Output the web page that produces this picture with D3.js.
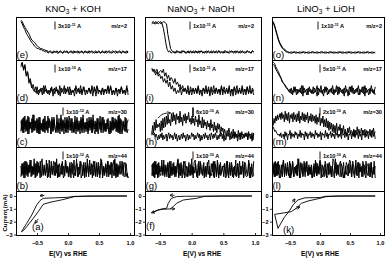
<!DOCTYPE html>
<html>
<head>
<meta charset="utf-8">
<script src="https://cdn.jsdelivr.net/npm/d3@7"></script>
<style>
  body { margin: 0; background: #fff; }
  svg { display: block; font-family: "Liberation Sans", Arial, sans-serif; }
</style>
</head>
<body>
<svg id="chart" width="387" height="259"></svg>
<script>
// one column per electrolyte
const saltNames = [["KNO", "3", " + KOH"], ["NaNO", "3", " + NaOH"], ["LiNO", "3", " + LiOH"]];
const massLabels = ["m/z=2", "m/z=17", "m/z=30", "m/z=44"];
const panelTags = [["e", "d", "c", "b", "a"], ["j", "i", "h", "g", "f"], ["o", "n", "m", "l", "k"]];
const barMantissa = [["3", "1", "1", "1"], ["1", "5", "6", "1"], ["1", "5", "2", "1"]];
const barExponent = [["-11", "-10", "-12", "-12"], ["-11", "-11", "-10", "-10"], ["-11", "-11", "-10", "-10"]];
const xTicks = [-0.5, 0, 0.5, 1.0];
const yTicks = [0, -1, -2, -3];
// potential window swept by the MS traces (V vs RHE)
const scanRange = [[-0.76, 0.97], [-0.63, 0.98], [-0.78, 0.92]];

// MS ion currents: one character per sample, base 36 (0 = panel floor, 35 = panel top)
const kohM2 = [
  "wurpmkigedba99887767566576656765667566576656675665766567566576656765667566576656",
  "xwtrpnligfecba9988776765667566576656765667566576656765667566576656765667566576"];
const kohM17 = [
  "wyrvnpjhcfa8d6b9c7e8a6c9b7d8a5c9e7b8d6a9c7b8e6d9a7c8b5d9e7a8c6b9d7e8a6c9b7d8a6c9",
  "uxswmqgkeb9d7a8c6e9b7a8d5c9b6e8a7c9d6b8a5e9c7b8d6a9c7e8b5d9a6c8b7e9d6a8c5b9d7a8e6"];
const kohM30 = [
  "cmboeldpakfncqdlbmaoejcnbkdpflamcoebkdnaqcmfjboeldnbkcpamdlfobnejckaodmbqelcnafkdobmcjenalbodkfmcpbnealdocjm",
  "ldnbpcmaoekbqdlfnboajdmcpelbnkaodmfcqbjendlaocmbpkdnfbleocjamdqbkenclfobmdakcnepblodjcmfbakdoenclbqamdkfcnbe"];
const kohM44 = [
  "bmdnaoclepbkdqamcnfobldjcpaekbmdoncqalbfmdkcoejbnaldpckmbfoadlcnbqekdmaojclbnfdpakcmeobldnjcqambkfdoclnbea",
  "kcmaodnblfpcjdmboekanqcldfmbpaodkcnelbmjdoacpfkbldnmaecqbjdolcnakfmbpdelcobndkaqmcjelbofdnakpcmbldoejnbcmda"];

const naohM2 = [
  "uvuwvuvwuqkd86756657665767566576657665766576657665767566576656766576657665766576",
  "vwvuvwvuvwvulf976657665766576657665767566576657665766576657665766576656766576"];
const naohM17 = [
  "tqsnqmokmhkgjdhbe9c7a8d6b9c7e8a6c9b7d8a5c9e7b8d6a9c7b8e6d9a7c8b5d9e7a8c6b9d7e8a6",
  "rspqsoqrpsmpkniljgkfhdfbe9c8a6d9b7c8e6a9c7b8d5a9e7c8b6d9a7c8e5b9d6a8c7e9b6d8a7c9"];
const naohM30 = [
  "9hbkdmfigjcldnfogpiqjmhrkslqirmpjtkohqlrjpmsknipjnhpkmgqilfofmhkelgjdmfickdhbjeiagcf9eb8dafb9c7e8c9a7d8b6c9a7b8a6c9a7b5a",
  "ca9b7a8596a7b5968a49b6a7958b6a47958a6b7948a5967b8a5968b7a4958a6b7958a5b96a7b8596a8b6a4957a8b5968a6b7948a5b9697a8b5a96847b"];
const naohM44 = [
  "cmbodlaneckdpblfmaocjdnbkepamcldoafkbnmcqdjelbaodmfcnbkdlpaecmbojdnalcfkbmdoeanclbjdpcmafkdobnlecmajdbo",
  "lcnaodmbkfpcldjbneaocmdkblqfcnadmoebjcldkanpfbmcoedlajbndkcmfoalbpcdnekjmabocldnfakcbmeodjlancbdpkamfc"];

const liohM2 = [
  "wtplheca98766565665656566565656656565665656566565656656565665656566565656656565",
  "vsokgdb987665656656565665656566565656656565665656566565656656565665656566565656"];
const liohM17 = [
  "yxusqnligfdc9b7a8d6b9c7e8a6c9b7d8a5c9e7b8d6a9c7b8e6d9a7c8b5d9e7a8c6b9d7e8a6c9b7d",
  "wvsqomkhgecba8c6d9b7a8e5c9b6d8a7c9e6b8a5d9c7b8e6a9d7c8b5e9a6d8c7b9e6a8d5c9b7e8a6"];
const liohM30 = [
  "hnjplqmormsnqktmrlsjqnrksmqkrltjpmslrkqmsjplrkqlpjqiokrhnjpgmgnfldkejcibhcjbgdiafchaeb9fbgadc9e8dagbeacf9dbe9dacbe8dbfac",
  "gecdba9a8b79a6c8b5a9d6b8a7c9b6a8d7b9a5c8b6a9c7b8a6d9b7a8c5b9a7d8b6a9c7b8a6c9b7a8b6d9a7c8b5a9c6b8d7a9b6c8a5d9b7a8c6b9a7d8b6"];
const liohM44 = [
  "dnbmcoaelbpdkcnfamdobjelcqankbdmfocldjabmenckdpalfbocmdnjbkeaqcldmobfnakdcmelbojdpcnamfkbldoecmbnajdk",
  "mbocndlaekpbmdjcoafnbdkcqlaemdobnfcjdlakbpcmeondbjlfacmdkbqoendlcbmjafdnkcpobleamdcnfjbokdalmcbnedoa"];

// cyclic voltammograms [E (V), I (mA)]
const cvKohA = [[0.95, 0], [0.5, 0], [0.1, -0.03], [0.0, -0.1], [-0.2, -0.14], [-0.4, -0.18], [-0.45, -0.35],
  [-0.505, -0.7], [-0.585, -1.48], [-0.666, -2.13], [-0.75, -2.78]];
const cvKohB = [[-0.75, -2.78], [-0.72, -2.7], [-0.666, -2.39], [-0.56, -1.74], [-0.48, -1.22], [-0.4, -0.65],
  [-0.29, -0.49], [-0.1, -0.3], [0.0, -0.18], [0.1, -0.05], [0.3, -0.01], [0.95, 0]];
const cvNaohA = [[0.95, 0], [0.5, 0], [0.2, -0.03], [0.08, -0.18], [-0.13, -0.31], [-0.24, -0.57], [-0.29, -0.83],
  [-0.34, -1.01], [-0.45, -1.03], [-0.52, -1.08], [-0.61, -1.27]];
const cvNaohB = [[-0.61, -1.27], [-0.55, -1.12], [-0.48, -1.02], [-0.394, -0.95], [-0.37, -0.57], [-0.32, -0.18],
  [-0.24, -0.05], [-0.1, -0.02], [0.95, 0]];
const cvLiohA = [[0.92, 0], [0.5, 0], [0.1, -0.02], [0.0, -0.12], [-0.25, -0.14], [-0.37, -0.31], [-0.45, -0.7],
  [-0.5, -1.09], [-0.6, -1.7], [-0.7, -2.52]];
const cvLiohB = [[-0.7, -2.52], [-0.73, -1.95], [-0.755, -1.43], [-0.62, -1.33], [-0.48, -1.22], [-0.395, -0.96],
  [-0.31, -0.57], [-0.2, -0.39], [0.0, -0.18], [0.1, -0.05], [0.3, 0], [0.92, 0]];

// scan direction arrows [E0, I0, E1, I1]
const cvArrowsKoh = [[-0.38, 0.04, -0.45, 0.03], [-0.48, -1.78, -0.53, -2.1]];
const cvArrowsNaoh = [[-0.27, 0.06, -0.34, 0.06], [-0.34, -1.0, -0.27, -1.0], [-0.57, -1.2, -0.63, -1.3]];
const cvArrowsLioh = [[-0.46, -0.5, -0.42, -0.25], [-0.41, -0.98, -0.34, -0.86]];
// curved arrows in the m/z=30 panels [E, signal]
const humpArrowNaoh = [[-0.53, 23.3], [-0.45, 26.7], [-0.34, 27.5]];
const humpArrowLioh = [[-0.74, 22.2], [-0.69, 24.8], [-0.63, 26.4]];
// tag position of the CV panels [E, I]
const cvTagPos = [[-0.58, -2.65], [-0.72, -2.57], [-0.617, -2.88]];

const msTraces = [[kohM2, kohM17, kohM30, kohM44], [naohM2, naohM17, naohM30, naohM44], [liohM2, liohM17, liohM30, liohM44]];
const cvTraces = [[cvKohA, cvKohB], [cvNaohA, cvNaohB], [cvLiohA, cvLiohB]];
const cvArrows = [cvArrowsKoh, cvArrowsNaoh, cvArrowsLioh];
const humpArrows = [null, humpArrowNaoh, humpArrowLioh];

// layout
const colBox = [[16, 134], [145, 261], [272, 384]];
const tickPx = [[37, 130], [160, 255], [290, 380]];   // where -0.5 V and 1.0 V sit
const rowY = [17, 60, 103, 147, 191, 235];
const barX = [[55, 55, 63, 63], [190, 190, 193, 193], [318, 320, 320, 320]];
const massX = [127, 254, 382];
const xLabelX = [68, 202, 320];

const svg = d3.select("#chart");

svg.append("defs").append("marker")
  .attr("id", "head")
  .attr("viewBox", "0 0 6 6")
  .attr("refX", 5).attr("refY", 3)
  .attr("markerWidth", 3.5).attr("markerHeight", 3.5)
  .attr("markerUnits", "userSpaceOnUse")
  .attr("orient", "auto")
  .append("path")
  .attr("d", "M0,0.4 L6,3 L0,5.6")
  .attr("fill", "none").attr("stroke", "#000").attr("stroke-width", 1.3);

const cvY = d3.scaleLinear().domain([-3, 0]).range([234.5, 196]);

colBox.forEach((box, c) => {
  const [left, right] = box;
  const g = svg.append("g");
  const x = d3.scaleLinear().domain([-0.5, 1.0]).range(tickPx[c]);

  // title
  const title = svg.append("text")
    .attr("x", (left + right) / 2 - 2).attr("y", 12)
    .attr("text-anchor", "middle").attr("font-size", 9.5);
  title.append("tspan").text(saltNames[c][0]);
  title.append("tspan").attr("font-size", 6.5).attr("dy", 2).text(saltNames[c][1]);
  title.append("tspan").attr("dy", -2).text(saltNames[c][2]);

  // MS panels
  msTraces[c].forEach((traces, r) => {
    const top = rowY[r], bottom = rowY[r + 1];
    const y = d3.scaleLinear().domain([0, 35]).range([bottom - 1, top + 1]);
    const [e0, e1] = scanRange[c];
    const line = d3.line().x(d => x(d[0])).y(d => y(d[1]));

    traces.forEach(s => {
      const n = s.length;
      const pts = Array.from(s).map((ch, i) => [e0 + (e1 - e0) * i / (n - 1), parseInt(ch, 36)]);
      g.append("path")
        .attr("d", line(pts))
        .attr("fill", "none").attr("stroke", "#000")
        .attr("stroke-width", r === 0 ? 1.0 : 0.95).attr("stroke-linejoin", "round");
    });

    if (r === 2 && humpArrows[c]) {
      g.append("path")
        .attr("d", d3.line().curve(d3.curveNatural).x(d => x(d[0])).y(d => y(d[1]))(humpArrows[c]))
        .attr("fill", "none").attr("stroke", "#000").attr("stroke-width", 0.9)
        .attr("marker-end", "url(#head)");
    }

    // scale bar + label
    const bx = barX[c][r];
    const big = r === 2 && c === 1;
    g.append("line")
      .attr("x1", bx).attr("x2", bx)
      .attr("y1", top + 4.5).attr("y2", big ? top + 14 : top + 12.5)
      .attr("stroke", "#000").attr("stroke-width", big ? 1.6 : 0.9);
    const bt = g.append("text")
      .attr("x", bx + 3).attr("y", top + 11)
      .attr("font-size", 5.6).attr("font-weight", "bold");
    bt.append("tspan").text(barMantissa[c][r] + "x10");
    bt.append("tspan").attr("font-size", 3.8).attr("dy", -2.4).text(barExponent[c][r]);
    bt.append("tspan").attr("dy", 2.4).text(" A");

    g.append("text")
      .attr("x", massX[c]).attr("y", top + 11)
      .attr("text-anchor", "end")
      .attr("font-size", 5.6).attr("font-weight", "bold")
      .text(massLabels[r]);

    g.append("text")
      .attr("x", left + 0.5).attr("y", bottom - 2.5)
      .attr("font-size", 9.5)
      .text("(" + panelTags[c][r] + ")");
  });

  // CV panel
  const cvLine = d3.line().x(d => x(d[0])).y(d => cvY(d[1]));
  cvTraces[c].forEach(tr => {
    g.append("path")
      .attr("d", cvLine(tr))
      .attr("fill", "none").attr("stroke", "#000")
      .attr("stroke-width", 0.9).attr("stroke-linejoin", "round");
  });
  cvArrows[c].forEach(a => {
    g.append("line")
      .attr("x1", x(a[0])).attr("y1", cvY(a[1]))
      .attr("x2", x(a[2])).attr("y2", cvY(a[3]))
      .attr("stroke", "#000").attr("stroke-width", 0.8)
      .attr("marker-end", "url(#head)");
  });
  g.append("text")
    .attr("x", x(cvTagPos[c][0])).attr("y", cvY(cvTagPos[c][1]))
    .attr("font-size", 9.5)
    .text("(" + panelTags[c][4] + ")");

  // axes of the CV panel
  const xAxis = g.append("g")
    .attr("transform", `translate(0,${rowY[5]})`)
    .call(d3.axisBottom(x).tickValues(xTicks).tickSize(-2).tickPadding(6.5).tickFormat(d3.format(".1f")));
  const yAxis = g.append("g")
    .attr("transform", `translate(${left},0)`)
    .call(d3.axisLeft(cvY).tickValues(yTicks).tickSize(2).tickPadding(1.5).tickFormat(d3.format("d")));
  [xAxis, yAxis].forEach(a => {
    a.select(".domain").remove();
    a.attr("font-family", null).attr("font-size", 5.6).attr("font-weight", "bold");
    a.selectAll("line").attr("stroke-width", 0.8);
  });

  g.append("text")
    .attr("x", xLabelX[c]).attr("y", 256)
    .attr("text-anchor", "middle")
    .attr("font-size", 6.6).attr("font-weight", "bold")
    .text("E(V) vs RHE");

  // frame and row separators
  g.append("rect")
    .attr("x", left + 0.5).attr("y", rowY[0] + 0.5)
    .attr("width", right - left).attr("height", rowY[5] - rowY[0])
    .attr("fill", "none").attr("stroke", "#000").attr("stroke-width", 1);
  rowY.slice(1, 5).forEach(yy => {
    g.append("line")
      .attr("x1", left).attr("x2", right + 1)
      .attr("y1", yy + 0.5).attr("y2", yy + 0.5)
      .attr("stroke", "#000").attr("stroke-width", 1);
  });
});

svg.append("text")
  .attr("transform", "translate(7,213) rotate(-90)")
  .attr("text-anchor", "middle")
  .attr("font-size", 6).attr("font-weight", "bold")
  .text("Current (mA)");
</script>
</body>
</html>
